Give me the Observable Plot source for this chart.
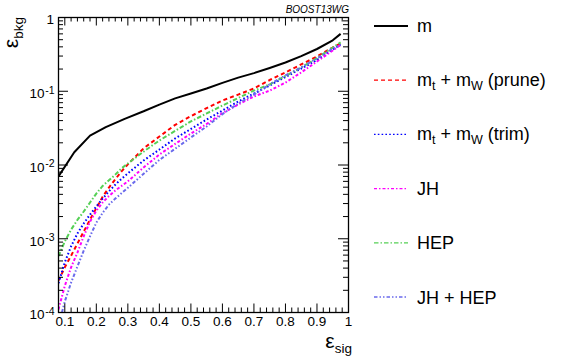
<!DOCTYPE html>
<html>
<head>
<meta charset="utf-8">
<script src="https://cdn.jsdelivr.net/npm/d3@7"></script>
<script src="https://cdn.jsdelivr.net/npm/@observablehq/plot@0.6"></script>
<style>
html,body{margin:0;padding:0;background:#fff;}
#chart{width:565px;height:360px;}
</style>
</head>
<body>
<div id="chart"></div>
<script>
// ---------------- data ----------------
const seriesNames  = ["m", "m_{t} + m_{W} (prune)", "m_{t} + m_{W} (trim)", "JH", "HEP", "JH + HEP"];
const seriesColors = ["#000000", "#ff0000", "#0000ff", "#ff00ff", "#55d055", "#6a6aec"];
const seriesDash   = [null, "4,3", "1.6,2.2", "3,2,1.5,2", "4.5,2,1.5,2", "3.5,2,1.5,2,1.5,2"];

// signal efficiency (x) and background efficiency (y)
const mX = [0.08, 0.13, 0.18, 0.23, 0.29, 0.35, 0.40, 0.45, 0.50, 0.55, 0.60, 0.65, 0.70, 0.75, 0.80, 0.85, 0.90, 0.95, 0.975];
const mY = [0.0070, 0.0149, 0.025, 0.0326, 0.0423, 0.0535, 0.066, 0.080, 0.093, 0.109, 0.13, 0.153, 0.176, 0.207, 0.245, 0.30, 0.374, 0.49, 0.60];

const tagX   = [0.08, 0.10, 0.12, 0.14, 0.16, 0.18, 0.20, 0.22, 0.24, 0.26, 0.28, 0.30, 0.35, 0.40, 0.45, 0.50, 0.55, 0.60, 0.65, 0.70, 0.75, 0.80, 0.85, 0.90, 0.95, 0.975];
const pruneY = [2.7e-4, 4.1e-4, 5.9e-4, 8.6e-4, 1.25e-3, 1.82e-3, 2.6e-3, 3.7e-3, 4.95e-3, 6.4e-3, 8.2e-3, 0.0102, 0.0168, 0.0243, 0.035, 0.046, 0.059, 0.075, 0.090, 0.109, 0.142, 0.180, 0.231, 0.296, 0.392, 0.445];
const trimY  = [2.5e-4, 4.8e-4, 7.9e-4, 1.18e-3, 1.61e-3, 2.13e-3, 2.74e-3, 3.5e-3, 4.4e-3, 5.4e-3, 6.5e-3, 7.7e-3, 0.0115, 0.0162, 0.0229, 0.0308, 0.0414, 0.0548, 0.0726, 0.0931, 0.120, 0.156, 0.203, 0.265, 0.368, 0.430];
const jhY    = [1.1e-4, 2.3e-4, 4.1e-4, 6.5e-4, 1.08e-3, 1.70e-3, 2.4e-3, 3.1e-3, 3.8e-3, 4.5e-3, 5.2e-3, 6.0e-3, 9.25e-3, 0.0139, 0.0193, 0.0267, 0.036, 0.0505, 0.066, 0.085, 0.102, 0.131, 0.180, 0.253, 0.357, 0.425];
const hepY   = [5.8e-4, 9.2e-4, 1.33e-3, 1.8e-3, 2.34e-3, 3.1e-3, 4.1e-3, 5.2e-3, 6.2e-3, 7.4e-3, 9.0e-3, 0.0105, 0.0152, 0.0215, 0.029, 0.039, 0.050, 0.064, 0.081, 0.102, 0.124, 0.161, 0.210, 0.282, 0.392, 0.460];
const jhhepX = [0.091, 0.10, 0.12, 0.14, 0.16, 0.18, 0.20, 0.22, 0.24, 0.26, 0.28, 0.30, 0.35, 0.40, 0.45, 0.50, 0.55, 0.60, 0.65, 0.70, 0.75, 0.80, 0.85, 0.90, 0.95, 0.975];
const jhhepY = [1.0e-4, 1.41e-4, 2.55e-4, 4.2e-4, 6.9e-4, 1.08e-3, 1.65e-3, 2.25e-3, 2.9e-3, 3.5e-3, 4.15e-3, 4.9e-3, 7.6e-3, 0.0117, 0.0166, 0.0236, 0.0333, 0.049, 0.068, 0.090, 0.124, 0.164, 0.210, 0.278, 0.380, 0.425];

// axis ticks
const xMajor = [0.1, 0.2, 0.3, 0.4, 0.5, 0.6, 0.7, 0.8, 0.9, 1.0];
const xMajorLabels = ["0.1", "0.2", "0.3", "0.4", "0.5", "0.6", "0.7", "0.8", "0.9", "1"];
const xMinor = [0.08, 0.12, 0.14, 0.16, 0.18, 0.22, 0.24, 0.26, 0.28, 0.32, 0.34, 0.36, 0.38, 0.42, 0.44, 0.46, 0.48,
                0.52, 0.54, 0.56, 0.58, 0.62, 0.64, 0.66, 0.68, 0.72, 0.74, 0.76, 0.78, 0.82, 0.84, 0.86, 0.88,
                0.92, 0.94, 0.96, 0.98];
const yExpTicks = [1e-4, 1e-3, 1e-2, 1e-1];
const yExpLabels = ["-4", "-3", "-2", "-1"];
const yTop = [1];
const yMinorMult = [2, 3, 4, 5, 6, 7, 8, 9];

const xTitle = ["ε", "sig"];
const yTitle = ["ε", "bkg"];
const tagText = "BOOST13WG";

// ---------------- build ----------------
const FONT = "'Liberation Sans', Arial, Helvetica, sans-serif";
const W = 565, H = 360;
const mL = 58, mR = 217, mT = 17, mB = 48;
const FW = W - mL - mR, FH = H - mT - mB;

const seriesX = [mX, tagX, tagX, tagX, tagX, jhhepX];
const seriesY = [mY, pruneY, trimY, jhY, hepY, jhhepY];
const tables = seriesNames.map((name, k) => seriesX[k].map((x, i) => ({series: name, x, y: seriesY[k][i]})));

const yMinor = [];
for (const d of [1e-4, 1e-3, 1e-2, 1e-1]) for (const m of yMinorMult) yMinor.push(+(d * m).toPrecision(3));
const yMajorAll = yExpTicks.concat(yTop);

const drawOrder = [1, 2, 3, 4, 5, 0];
const lineMarks = drawOrder.map(k => Plot.line(tables[k], {
  x: "x", y: "y",
  stroke: seriesColors[k],
  strokeWidth: 2,
  strokeDasharray: seriesDash[k] || undefined,
  strokeLinecap: "butt",
  strokeLinejoin: "round",
  clip: true
}));

const plot = Plot.plot({
  width: W, height: H,
  marginLeft: mL, marginRight: mR, marginTop: mT, marginBottom: mB,
  x: {domain: [0.08, 1.0], axis: null},
  y: {type: "log", domain: [1e-4, 1], axis: null},
  style: {fontFamily: FONT, background: "white", color: "black", overflow: "visible"},
  marks: [
    ...lineMarks,
    Plot.ruleX(xMinor, {x: d => d, insetTop: FH - 4.5, stroke: "black"}),
    Plot.ruleX(xMajor, {x: d => d, insetTop: FH - 8.5, stroke: "black"}),
    Plot.ruleX(xMinor, {x: d => d, insetBottom: FH - 4.5, stroke: "black"}),
    Plot.ruleX(xMajor, {x: d => d, insetBottom: FH - 8.5, stroke: "black"}),
    Plot.ruleY(yMinor, {y: d => d, insetRight: FW - 5, stroke: "black"}),
    Plot.ruleY(yMajorAll, {y: d => d, insetRight: FW - 10, stroke: "black"}),
    Plot.ruleY(yMinor, {y: d => d, insetLeft: FW - 5, stroke: "black"}),
    Plot.ruleY(yMajorAll, {y: d => d, insetLeft: FW - 10, stroke: "black"}),
    Plot.frame({stroke: "black", strokeWidth: 1.3}),
    Plot.text(xMajor, {x: d => d, text: (d, i) => xMajorLabels[i], frameAnchor: "bottom", dy: 13.5,
      fontSize: 13.5, fill: "black", fontFamily: FONT}),
    Plot.text(yExpTicks, {y: d => d, text: () => "10", frameAnchor: "left", dx: -14, dy: 2.5,
      textAnchor: "end", fontSize: 13.5, fill: "black", fontFamily: FONT}),
    Plot.text(yExpTicks, {y: d => d, text: (d, i) => yExpLabels[i], frameAnchor: "left", dx: -13.3, dy: -1,
      textAnchor: "start", fontSize: 10.5, fill: "black", fontFamily: FONT}),
    Plot.text(yTop, {y: d => d, text: () => "1", frameAnchor: "left", dx: -4.5, dy: 2.5,
      textAnchor: "end", fontSize: 13.5, fill: "black", fontFamily: FONT})
  ]
});

document.getElementById("chart").appendChild(plot);
const svg = d3.select(plot);

// axis titles
const yt = svg.append("text")
  .attr("transform", `translate(17.5,${mT}) rotate(-90)`)
  .attr("text-anchor", "end").attr("font-family", FONT).attr("fill", "black");
yt.append("tspan").attr("font-size", 21).text(yTitle[0]);
yt.append("tspan").attr("font-size", 13.5).attr("dy", 5).text(yTitle[1]);

const xt = svg.append("text")
  .attr("x", 352).attr("y", 348)
  .attr("text-anchor", "end").attr("font-family", FONT).attr("fill", "black");
xt.append("tspan").attr("font-size", 21).text(xTitle[0]);
xt.append("tspan").attr("font-size", 13.5).attr("dy", 5).text(xTitle[1]);

svg.append("text")
  .attr("x", 349).attr("y", 13.3)
  .attr("text-anchor", "end").attr("font-family", FONT)
  .attr("font-style", "italic").attr("font-size", 10).attr("fill", "black")
  .text(tagText);

// legend
const legG = svg.append("g").attr("font-family", FONT).attr("fill", "black").attr("text-anchor", "start");
const rowY0 = 26, rowStep = 54.2;
seriesNames.forEach((name, k) => {
  const cy = rowY0 + k * rowStep;
  legG.append("line")
    .attr("x1", 374).attr("x2", 408).attr("y1", cy).attr("y2", cy)
    .attr("stroke", seriesColors[k])
    .attr("stroke-width", k === 0 ? 1.8 : 1.3)
    .attr("stroke-dasharray", seriesDash[k] || null);
  const capsRow = /^[A-Z]/.test(name);
  const t = legG.append("text").attr("x", 417).attr("y", cy + (capsRow ? 6.5 : 5.5))
    .attr("font-size", 18).attr("text-anchor", "start").style("white-space", "pre");
  const parts = name.split(/_\{([^}]*)\}/);
  parts.forEach((p, j) => {
    if (p === "") return;
    if (j % 2 === 1) {
      t.append("tspan").attr("font-size", 12.5).attr("dy", 4).text(p);
    } else {
      const ts = t.append("tspan").text(p);
      if (j > 0) ts.attr("dy", -4);
    }
  });
});
</script>
</body>
</html>
